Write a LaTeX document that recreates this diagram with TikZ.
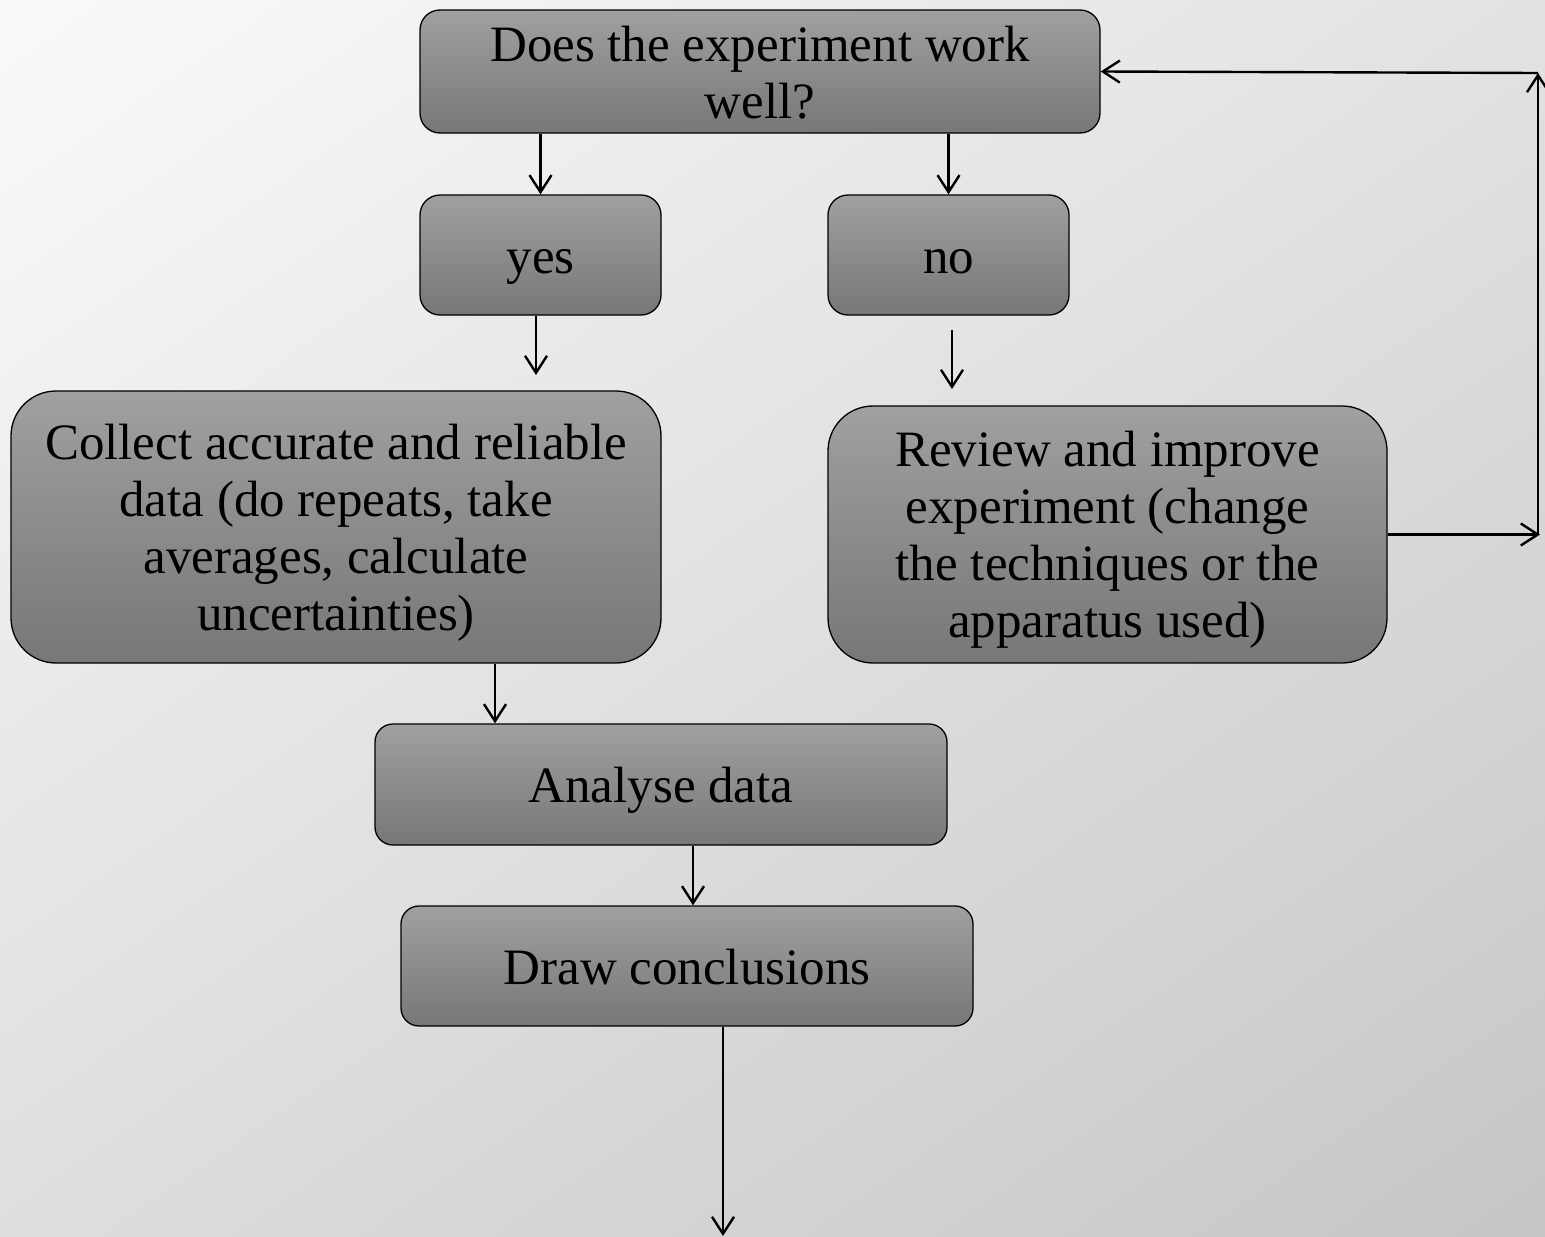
\documentclass[tikz,border=0pt]{standalone}
\usepackage{fontspec}
\setmainfont{Liberation Serif}
\usetikzlibrary{arrows.meta,shadings,calc}
\definecolor{boxtop}{HTML}{A0A0A0}
\definecolor{boxbot}{HTML}{777777}
\definecolor{bgTL}{HTML}{FAFAFA}
\definecolor{bgTR}{HTML}{E2E2E2}
\definecolor{bgBL}{HTML}{DEDEDE}
\definecolor{bgBR}{HTML}{C6C6C6}
\tikzset{
  box/.style={draw=black, line width=1.3pt, top color=boxtop, bottom color=boxbot,
    inner sep=0pt, align=center, font=\fontsize{51}{57}\selectfont},
  oneline/.style={text height=40pt, text depth=4pt},
  twoline/.style={text height=97pt, text depth=4pt},
  fourline/.style={text height=210pt, text depth=4pt},
  arr/.style={line width=2.4pt, -{Straight Barb[length=17pt,width=22pt,line width=2.4pt]}}
}
\begin{document}
\begin{tikzpicture}[x=1pt,y=-1pt]
\useasboundingbox (0,0) rectangle (1545,1237);
\shade[upper left=bgTL, upper right=bgTR, lower left=bgBL, lower right=bgBR] (0,0) rectangle (1545,1237);

\node[box, twoline, minimum width=680pt, minimum height=123pt, rounded corners=20pt] (top) at (760,71.5) {Does the experiment work\\well?};
\node[box, oneline, minimum width=241pt, minimum height=120pt, rounded corners=20pt] (yes) at (540.5,255) {yes};
\node[box, oneline, minimum width=241pt, minimum height=120pt, rounded corners=20pt] (no) at (948.5,255) {no};
\node[box, fourline, minimum width=650pt, minimum height=272pt, rounded corners=45pt] (collect) at (336,527) {Collect accurate and reliable\\data (do repeats, take\\averages, calculate\\uncertainties)};
\node[box, fourline, text height=209pt, minimum width=559pt, minimum height=257pt, rounded corners=45pt] (review) at (1107.5,534.5) {Review and improve\\experiment (change\\the techniques or the\\apparatus used)};
\node[box, oneline, minimum width=572pt, minimum height=121pt, rounded corners=18pt] (analyse) at (661,784.5) {Analyse data};
\node[box, oneline, minimum width=572pt, minimum height=120pt, rounded corners=18pt] (draw) at (687,966) {Draw conclusions};

\coordinate (c1s) at (536,316);
\coordinate (c1e) at (536,375);
\coordinate (c2s) at (952,330);
\coordinate (c2e) at (952,389);
\coordinate (xa) at (495,0);
\coordinate (xb) at (693,0);
\coordinate (xc) at (723,0);
\coordinate (endc) at (723,1236);
\coordinate (cr) at (1540,534.5);
\coordinate (ct) at (1538,73);
\coordinate (cb) at (1538,534.5);

\draw[arr] (top.south -| yes) -- (yes.north);
\draw[arr] (top.south -| no) -- (no.north);
\draw[arr] (c1s) -- (c1e);
\draw[arr] (c2s) -- (c2e);
\draw[arr] (collect.south -| xa) -- (analyse.north -| xa);
\draw[arr] (analyse.south -| xb) -- (draw.north -| xb);
\draw[arr] (draw.south -| xc) -- (endc);
\draw[arr] (review.east) -- (cr);
\draw[arr] (cb) -- (ct);
\draw[arr] (ct) -- (top.east);
\end{tikzpicture}
\end{document}
